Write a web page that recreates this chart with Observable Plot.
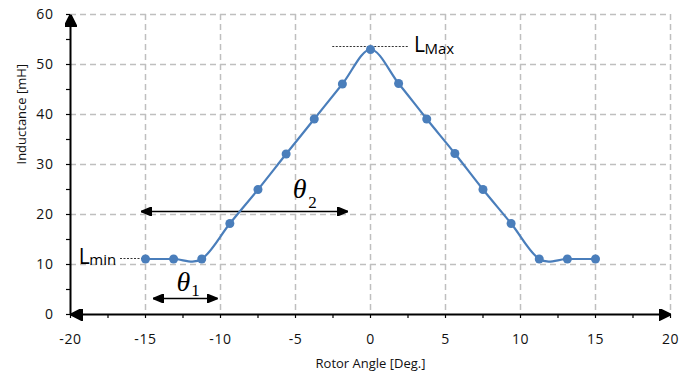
<!DOCTYPE html>
<html><head><meta charset="utf-8">
<script src="https://cdn.jsdelivr.net/npm/d3@7"></script>
<script src="https://cdn.jsdelivr.net/npm/@observablehq/plot@0.6"></script>
<style>
body{margin:0;background:#fff;}
g[aria-label="axis-title"] text{letter-spacing:1.2px;}
g[aria-label="x-axis tick label"] text, g[aria-label="y-axis tick label"] text{letter-spacing:0.6px;}
</style></head><body><div id="chart"></div>
<script>
// Data
const angle = [-15, -13.125, -11.25, -9.375, -7.5, -5.625, -3.75, -1.875, 0, 1.875, 3.75, 5.625, 7.5, 9.375, 11.25, 13.125, 15];
const inductance = [11.1, 11.1, 11.1, 18.2, 25, 32.1, 39.1, 46.1, 53, 46.2, 39.1, 32.2, 25, 18.2, 11.1, 11.1, 11.1];
const xTicks = [-20, -15, -10, -5, 0, 5, 10, 15, 20];
const yTicks = [0, 10, 20, 30, 40, 50, 60];
const xMinor = d3.range(-20, 20.1, 2.5);
const yMinor = d3.range(0, 60.1, 5);
const xTitle = "Rotor Angle [Deg.]";
const yTitle = "Inductance [mH]";
// Annotations (data coordinates)
const theta1Span = [-14.5, -10.2, 3.2];
const theta2Span = [-15.3, -1.5, 20.6];
const lminLine = [-16.7, -15, 11.2];
const lmaxLine = [-2.55, 2.55, 53.6];

const data = angle.map((a, i) => ({a, L: inductance[i]}));

function tri(len, half) {
  return (color) => d3.create("svg:marker")
    .attr("viewBox", `${-len} ${-half} ${len} ${2 * half}`)
    .attr("markerWidth", len).attr("markerHeight", 2 * half)
    .attr("markerUnits", "userSpaceOnUse")
    .attr("orient", "auto-start-reverse")
    .attr("fill", color)
    .call(m => m.append("path").attr("d", `M${-len},${-half}L0,0L${-len},${half}Z`))
    .node();
}
const bigTri = tri(12, 6);
const smallTri = tri(11, 4.5);

const blue = "#4a7ebb";
const plot = Plot.plot({
  width: 681, height: 381,
  marginLeft: 70, marginRight: 11, marginTop: 14, marginBottom: 67,
  style: {fontFamily: "'Open Sans', sans-serif", fontSize: "14px", color: "#111", background: "#fff"},
  x: {domain: [-20, 20], label: null},
  y: {domain: [0, 60], label: null},
  marks: [
    Plot.gridX(xTicks.filter(d => d > -20), {stroke: "#bfbfbf", strokeOpacity: 1, strokeWidth: 1.5, strokeDasharray: "6,4"}),
    Plot.gridY(yTicks.filter(d => d > 0), {stroke: "#bfbfbf", strokeOpacity: 1, strokeWidth: 1.5, strokeDasharray: "6,4"}),
    Plot.axisX({ticks: xMinor, tickSize: 4, tickFormat: () => "", strokeWidth: 1.2, stroke: "#000"}),
    Plot.axisY({ticks: yMinor, tickSize: 4, tickFormat: () => "", strokeWidth: 1.2, stroke: "#000"}),
    Plot.axisX({ticks: xTicks, tickSize: 0, tickPadding: 20, tickFormat: d => String(d), label: null}),
    Plot.axisY({ticks: yTicks, tickSize: 0, tickPadding: 17, tickFormat: d => String(d), label: null}),
    Plot.link([0], {x1: -20, x2: 20, y1: 0, y2: 0, stroke: "#000", strokeWidth: 2, markerStart: bigTri, markerEnd: bigTri}),
    Plot.link([0], {x1: -20, x2: -20, y1: 0, y2: 60, stroke: "#000", strokeWidth: 2, markerEnd: bigTri}),
    Plot.text([xTitle], {frameAnchor: "bottom", dy: 53, text: d => d, fontSize: 13, fill: "#111", ariaLabel: "axis-title"}),
    Plot.text([yTitle], {frameAnchor: "left", dx: -49, rotate: -90, text: d => d, fontSize: 13, fill: "#111", ariaLabel: "axis-title"}),
    // annotation guide lines
    Plot.link([lminLine], {x1: d => d[0], x2: d => d[1], y1: d => d[2], y2: d => d[2], stroke: "#333", strokeWidth: 1, strokeDasharray: "2,1.5"}),
    Plot.link([lmaxLine], {x1: d => d[0], x2: d => d[1], y1: d => d[2], y2: d => d[2], stroke: "#333", strokeWidth: 1, strokeDasharray: "2,1.5"}),
    // theta arrows
    Plot.link([theta1Span, theta2Span], {x1: d => d[0], x2: d => d[1], y1: d => d[2], y2: d => d[2], stroke: "#000", strokeWidth: 1.5, markerStart: smallTri, markerEnd: smallTri}),
    // data
    Plot.line(data, {x: "a", y: "L", curve: "cardinal", stroke: blue, strokeWidth: 2.2}),
    Plot.dot(data, {x: "a", y: "L", r: 4.5, fill: blue}),
    // labels
    Plot.text(["L"], {x: -19.45, y: 11.5, text: d => d, textAnchor: "start", fontSize: 21, fill: "#000"}),
    Plot.text(["min"], {x: -18.75, y: 10.8, text: d => d, textAnchor: "start", fontSize: 15, fill: "#000"}),
    Plot.text(["L"], {x: 2.9, y: 53.8, text: d => d, textAnchor: "start", fontSize: 21, fill: "#000"}),
    Plot.text(["Max"], {x: 3.6, y: 53.0, text: d => d, textAnchor: "start", fontSize: 15, fill: "#000"}),
    Plot.text(["θ"], {x: -12.47, y: 6.4, text: d => d, fontFamily: "'Liberation Serif', serif", fontStyle: "italic", fontSize: 28, fill: "#000"}),
    Plot.text(["1"], {x: -11.67, y: 4.8, text: d => d, fontFamily: "'Liberation Serif', serif", fontSize: 17, fill: "#000"}),
    Plot.text(["θ"], {x: -4.73, y: 25.1, text: d => d, fontFamily: "'Liberation Serif', serif", fontStyle: "italic", fontSize: 28, fill: "#000"}),
    Plot.text(["2"], {x: -3.87, y: 22.4, text: d => d, fontFamily: "'Liberation Serif', serif", fontSize: 17, fill: "#000"})
  ]
});
document.getElementById("chart").append(plot);
</script></body></html>
